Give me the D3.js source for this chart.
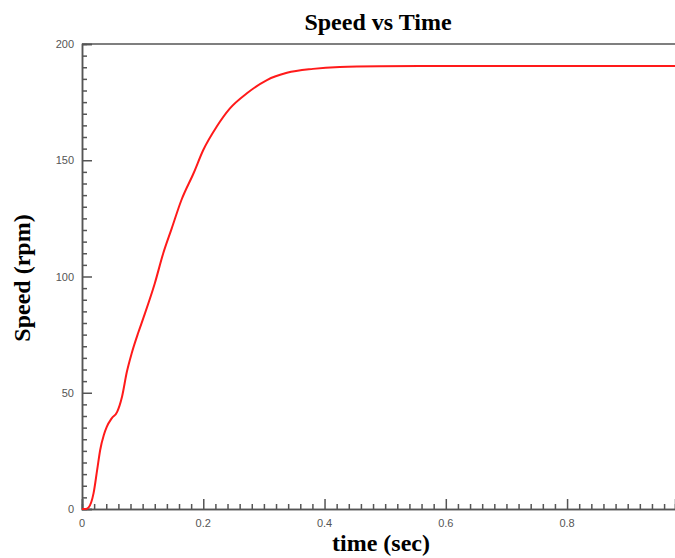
<!DOCTYPE html>
<html><head><meta charset="utf-8">
<script src="https://cdn.jsdelivr.net/npm/d3@7"></script>
<style>body{margin:0;background:#fff}svg{display:block}</style>
</head><body><svg id="c" width="675" height="558"></svg>
<script>
const timeSec = [0, 0.006, 0.011, 0.019, 0.025, 0.030, 0.036, 0.041, 0.049, 0.058, 0.066, 0.074, 0.082, 0.093, 0.101, 0.120, 0.134, 0.148, 0.164, 0.184, 0.2, 0.222, 0.244, 0.272, 0.305, 0.338, 0.381, 0.425, 0.49, 0.6, 0.8, 0.978];
const speedRpm = [0, 0, 0.7, 6.7, 16.8, 25.4, 31.8, 35.4, 39, 41.8, 48.3, 59, 67, 76, 82, 97, 110, 120.7, 132.9, 144.4, 154.4, 164.4, 172.3, 178.8, 184.5, 187.6, 189.3, 190.1, 190.4, 190.5, 190.5, 190.5];
const xTickLabels = [0, 0.2, 0.4, 0.6, 0.8];
const yTickLabels = [0, 50, 100, 150, 200];

const svg = d3.select("#c");
const L = 82, R = 675, T = 44, B = 509;
const x = d3.scaleLinear().domain([0, 0.978]).range([L, R]);
const y = d3.scaleLinear().domain([0, 200]).range([B, T]);
const axisColor = "#555";

// top frame line
svg.append("line").attr("x1", L).attr("x2", R).attr("y1", T).attr("y2", T)
  .attr("stroke", axisColor).attr("stroke-width", 1.5);

// y axis
const yMinor = d3.range(0, 201, 5).filter(v => v % 50 !== 0);
const gy = svg.append("g").attr("transform", `translate(${L},0)`);
gy.call(d3.axisRight(y).tickValues(yTickLabels).tickSize(10).tickFormat(""));
gy.append("g").call(d3.axisRight(y).tickValues(yMinor).tickSize(5).tickFormat(""));
gy.selectAll("path.domain").attr("stroke", axisColor).attr("stroke-width", 1.5);
gy.selectAll(".tick line").attr("stroke", axisColor).attr("stroke-width", 1.5);
yTickLabels.forEach(v => {
  svg.append("text").attr("x", L - 8).attr("y", y(v) + 4).attr("text-anchor", "end")
    .attr("font-family", "Liberation Sans, Arial, sans-serif").attr("font-size", 11)
    .attr("fill", "#555").text(v);
});

// x axis
const xMinor = d3.range(0, 0.98, 0.02).map(v => +v.toFixed(2)).filter(v => Math.round(v * 100) % 20 !== 0);
const gx = svg.append("g").attr("transform", `translate(0,${B})`);
gx.call(d3.axisTop(x).tickValues(xTickLabels).tickSize(10).tickFormat(""));
gx.append("g").call(d3.axisTop(x).tickValues(xMinor).tickSize(5).tickFormat(""));
gx.selectAll("path.domain").attr("stroke", axisColor).attr("stroke-width", 1.5);
gx.selectAll(".tick line").attr("stroke", axisColor).attr("stroke-width", 1.5);
xTickLabels.forEach(v => {
  svg.append("text").attr("x", x(v)).attr("y", B + 18).attr("text-anchor", "middle")
    .attr("font-family", "Liberation Sans, Arial, sans-serif").attr("font-size", 11)
    .attr("fill", "#555").text(v);
});

// line
const line = d3.line().x((d, i) => x(timeSec[i])).y(d => y(d)).curve(d3.curveMonotoneX);
svg.append("path").datum(speedRpm).attr("d", line).attr("fill", "none")
  .attr("stroke", "#ff1a1a").attr("stroke-width", 2);

// titles
svg.append("text").attr("x", 378).attr("y", 30).attr("text-anchor", "middle")
  .attr("font-family", "Liberation Serif, Times New Roman, serif").attr("font-weight", "bold")
  .attr("font-size", 24).text("Speed vs Time");
svg.append("text").attr("x", 381).attr("y", 551).attr("text-anchor", "middle")
  .attr("font-family", "Liberation Serif, Times New Roman, serif").attr("font-weight", "bold")
  .attr("font-size", 24).text("time (sec)");
svg.append("text").attr("transform", "translate(30,278) rotate(-90)").attr("text-anchor", "middle")
  .attr("font-family", "Liberation Serif, Times New Roman, serif").attr("font-weight", "bold")
  .attr("font-size", 24).text("Speed (rpm)");
</script></body></html>
